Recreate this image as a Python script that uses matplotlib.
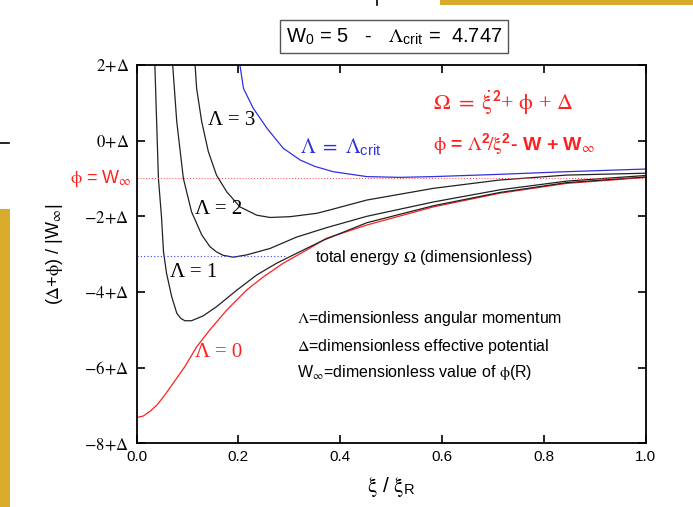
import matplotlib
matplotlib.use("Agg")
import matplotlib.pyplot as plt
from matplotlib.patches import Rectangle

plt.rcParams['font.family'] = ['Liberation Sans', 'DejaVu Sans']
plt.rcParams['mathtext.fontset'] = 'stix'

# curves: xi/xi_R vs (Delta+phi)/|W_inf|
lam0_x = [0.0, 0.013, 0.026, 0.040, 0.053, 0.072, 0.095, 0.118, 0.144, 0.177, 0.216, 0.249,
          0.288, 0.334, 0.373, 0.452, 0.583, 0.713, 0.844, 1.0]
lam0_y = [-7.32, -7.28, -7.16, -6.99, -6.77, -6.41, -5.97, -5.45, -5.00, -4.48, -3.95, -3.60,
          -3.24, -2.89, -2.58, -2.23, -1.75, -1.39, -1.13, -0.97]

lam1_x = [0.036, 0.043, 0.049, 0.053, 0.059, 0.069, 0.079, 0.087, 0.095, 0.108, 0.131,
          0.157, 0.197, 0.236, 0.275, 0.314, 0.367, 0.452, 0.583, 0.713, 0.844, 1.0]
lam1_y = [2.0, -1.0, -2.01, -2.94, -3.51, -4.12, -4.56, -4.70, -4.76, -4.76, -4.63,
          -4.39, -3.95, -3.55, -3.24, -2.98, -2.63, -2.17, -1.72, -1.37, -1.11, -0.96]

lam2_x = [0.071, 0.079, 0.092, 0.108, 0.128, 0.144, 0.157, 0.170, 0.19, 0.216,
          0.262, 0.314, 0.373, 0.452, 0.583, 0.713, 0.844, 1.0]
lam2_y = [2.0, 0.50, -1.0, -1.88, -2.49, -2.80, -2.94, -3.03, -3.08, -3.02,
          -2.85, -2.55, -2.30, -2.0, -1.62, -1.30, -1.07, -0.92]

lam3_x = [0.115, 0.118, 0.128, 0.141, 0.157, 0.177, 0.203, 0.236, 0.262, 0.301,
          0.354, 0.380, 0.452, 0.583, 0.713, 0.844, 1.0]
lam3_y = [2.0, 1.38, 0.50, -0.29, -0.91, -1.35, -1.75, -1.97, -2.03, -2.01,
          -1.92, -1.83, -1.57, -1.26, -1.04, -0.91, -0.86]

crit_x = [0.203, 0.21, 0.229, 0.256, 0.288, 0.321, 0.350, 0.386, 0.452, 0.517,
          0.583, 0.713, 0.844, 1.0]
crit_y = [2.0, 1.38, 0.86, 0.33, -0.20, -0.51, -0.68, -0.82, -0.95, -0.97,
          -0.95, -0.89, -0.82, -0.75]

w_inf_level = -1.0
omega_level = -3.04
omega_end = 0.295

y_ticks = [2, 0, -2, -4, -6, -8]
y_labels = [r'$\mathrm{2\!+\!\Delta}$', r'$\mathrm{0\!+\!\Delta}$', r'$\mathrm{-2\!+\!\Delta}$',
            r'$\mathrm{-4\!+\!\Delta}$', r'$\mathrm{-6\!+\!\Delta}$', r'$\mathrm{-8\!+\!\Delta}$']
x_ticks = [0.0, 0.2, 0.4, 0.6, 0.8, 1.0]

red = '#ff2020'
blue = '#3030e0'
serif = ['Liberation Serif', 'DejaVu Serif']

fig = plt.figure(figsize=(6.93, 5.07), dpi=100)
ax = fig.add_axes([0.197, 0.1256, 0.735, 0.7462])

ax.plot(lam0_x, lam0_y, color=red, lw=0.9)
ax.plot(lam1_x, lam1_y, color='#222222', lw=0.9)
ax.plot(lam2_x, lam2_y, color='#222222', lw=0.9)
ax.plot(lam3_x, lam3_y, color='#222222', lw=0.9)
ax.plot(crit_x, crit_y, color=blue, lw=0.9)
ax.axhline(w_inf_level, color='#ff4040', lw=0.7, ls=(0, (1, 2)))
ax.plot([0, omega_end], [omega_level, omega_level], color='#4040ff', lw=0.8, ls=(0, (1, 2)))

ax.set_xlim(0, 1)
ax.set_ylim(-8, 2)
ax.set_xticks(x_ticks)
ax.set_xticklabels(['%.1f' % t for t in x_ticks], fontsize=11)
ax.set_yticks(y_ticks)
ax.set_yticklabels(y_labels, fontsize=12)
ax.tick_params(direction='in', length=6, width=1.2, top=True, right=True, pad=5)
for s in ax.spines.values():
    s.set_linewidth(1.3)

ax.set_xlabel(r'$\mathrm{\xi}$ / $\mathrm{\xi}_{\mathregular{R}}$', fontsize=15, labelpad=8)
ax.set_ylabel(r'($\Delta$+$\mathrm{\phi}$) / |W$_{\infty}$|', fontsize=13, labelpad=14)

# curve labels
ax.text(0.140, 0.52, 'Λ = 3', fontsize=15, va='center', family=serif)
ax.text(0.115, -1.83, 'Λ = 2', fontsize=15, va='center', family=serif)
ax.text(0.066, -3.49, 'Λ = 1', fontsize=15, va='center', family=serif)
ax.text(0.115, -5.6, 'Λ = 0', fontsize=15, va='center', color=red, family=serif)
ax.text(0.321, -0.17, r'$\mathrm{\Lambda\ =\ \Lambda}_{\mathregular{crit}}$', fontsize=15,
        va='center', color=blue)
ax.text(0.582, 1.02, r'$\mathrm{\Omega\ =\ \dot{\xi}}^{\mathbf{\mathsf{2}}}$+ $\mathrm{\phi}$ + $\mathrm{\Delta}$',
        fontsize=16, va='center', color=red, family=serif)
ax.text(0.582, -0.11,
        r'$\mathrm{\phi}$ = $\mathrm{\Lambda}^{\mathregular{2}}\!/\mathrm{\xi}^{\mathregular{2}}$- W + W$_{\infty}$',
        fontsize=14, va='center', color=red, fontweight='bold')
ax.text(0.35, -3.08, r'total energy $\Omega$ (dimensionless)', fontsize=11.5, va='center')
ax.text(0.315, -4.71, r'$\Lambda$=dimensionless angular momentum', fontsize=11.5, va='center')
ax.text(0.315, -5.43, r'$\Delta$=dimensionless effective potential', fontsize=11.5, va='center')
ax.text(0.315, -6.14, r'W$_{\infty}$=dimensionless value of $\mathrm{\phi}$(R)', fontsize=11.5,
        va='center')
ax.text(-0.01, w_inf_level, r'$\mathrm{\phi}$ = W$_{\infty}$', fontsize=13, color=red,
        ha='right', va='center')

# boxed title
fig.text(0.5685, 0.928, r'W$_{\mathregular{0}}$ = 5   -   $\Lambda_{\mathregular{crit}}$ =  4.747',
         fontsize=14.5, ha='center', va='center',
         bbox=dict(boxstyle='square,pad=0.3', fc='white', ec='#555555', lw=1.0))

# slide decorations around the figure
fig.patches.append(Rectangle((440 / 693, 1 - 4.5 / 507), 253 / 693, 4.5 / 507,
                             transform=fig.transFigure, fc='#d9ab2c', ec='none'))
fig.patches.append(Rectangle((0, 0), 9.5 / 693, 298 / 507,
                             transform=fig.transFigure, fc='#d9ab2c', ec='none'))
fig.add_artist(plt.Line2D([376.7 / 693, 376.7 / 693], [1, 1 - 5 / 507], color='black', lw=1.2,
                          transform=fig.transFigure))
fig.add_artist(plt.Line2D([0, 9 / 693], [1 - 142.7 / 507, 1 - 142.7 / 507], color='black',
                          lw=1.2, transform=fig.transFigure))

fig.savefig('out.png', dpi=100)
